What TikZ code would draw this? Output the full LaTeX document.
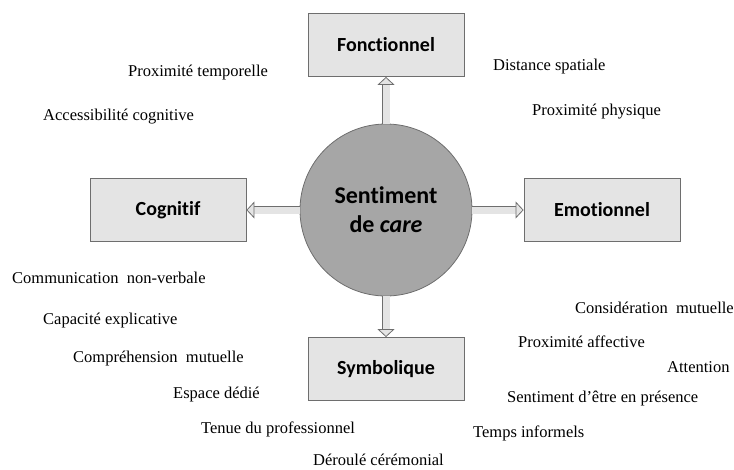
\documentclass[tikz,border=0pt]{standalone}
\usepackage{fontspec}
\setmainfont{Liberation Serif}
\newfontfamily\calibri[Ligatures=NoCommon]{Carlito}
\usetikzlibrary{arrows.meta}
\definecolor{boxgrey}{RGB}{228,228,228}
\definecolor{discgrey}{RGB}{166,166,166}
\definecolor{edgegrey}{RGB}{110,110,110}
\tikzset{
    dimension/.style={
           rectangle,
           draw=edgegrey, thick,
           fill=boxgrey,
           minimum width=156pt,
           minimum height=63pt,
           font=\calibri\bfseries\fontsize{20}{24}\selectfont
           },
    core/.style={
           circle,
           draw=edgegrey, thick,
           fill=discgrey,
           minimum size=172pt,
           align=center,
           font=\calibri\bfseries\fontsize{24}{29}\selectfont
           },
    item/.style={
           anchor=base west,
           inner sep=0pt,
           font=\fontsize{16.5}{20}\selectfont
           },
    flow/.style={
           draw=edgegrey,
           double=boxgrey,
           double distance=7pt,
           line width=0.8pt,
           -{Triangle[open, fill=boxgrey, line width=0.8pt, length=8pt, width=17pt]}
           },
}
\begin{document}
\begin{tikzpicture}[x=1pt,y=-1pt]
            \useasboundingbox (0,0) rectangle (734,469);

             \node[core] (CARE) at (386,210)
             {Sentiment\\de \textit{care}};

             \node[dimension, above of=CARE, node distance=165pt] (FONC) {Fonctionnel};
             \node[dimension, left of=CARE, node distance=218pt] (COGN) {Cognitif};
             \node[dimension, right of=CARE, node distance=216pt] (EMOT) {Emotionnel};
             \node[dimension, below of=CARE, node distance=159pt] (SYMB) {Symbolique};

             \path
             (CARE) edge[flow] (FONC)
             (CARE) edge[flow] (COGN)
             (CARE) edge[flow] (EMOT)
             (CARE) edge[flow] (SYMB);

             % fonctionnel
             \node[item] (PT) at (128,76) {Proximité temporelle};
             \node[item] (AC) at (43,120) {Accessibilité cognitive};
             \node[item] (DS) at (493,70) {Distance spatiale};
             \node[item] (PP) at (532,115) {Proximité physique};
             % cognitif
             \node[item] (CN) at (12,283) {Communication\ \ non-verbale};
             \node[item] (CE) at (43,324) {Capacité explicative};
             \node[item] (CM) at (73,362) {Compréhension\ \ mutuelle};
             % symbolique
             \node[item] (ED) at (173,398) {Espace dédié};
             \node[item] (TP) at (201,433) {Tenue du professionnel};
             \node[item] (DC) at (313,465) {Déroulé cérémonial};
             % emotionnel
             \node[item] (CO) at (575,313) {Considération\ \ mutuelle};
             \node[item] (PA) at (518,347) {Proximité affective};
             \node[item] (AT) at (667,372) {Attention};
             \node[item] (SP) at (507,402) {Sentiment d’être en présence};
             \node[item] (TI) at (473,437) {Temps informels};

        \end{tikzpicture}
\end{document}
